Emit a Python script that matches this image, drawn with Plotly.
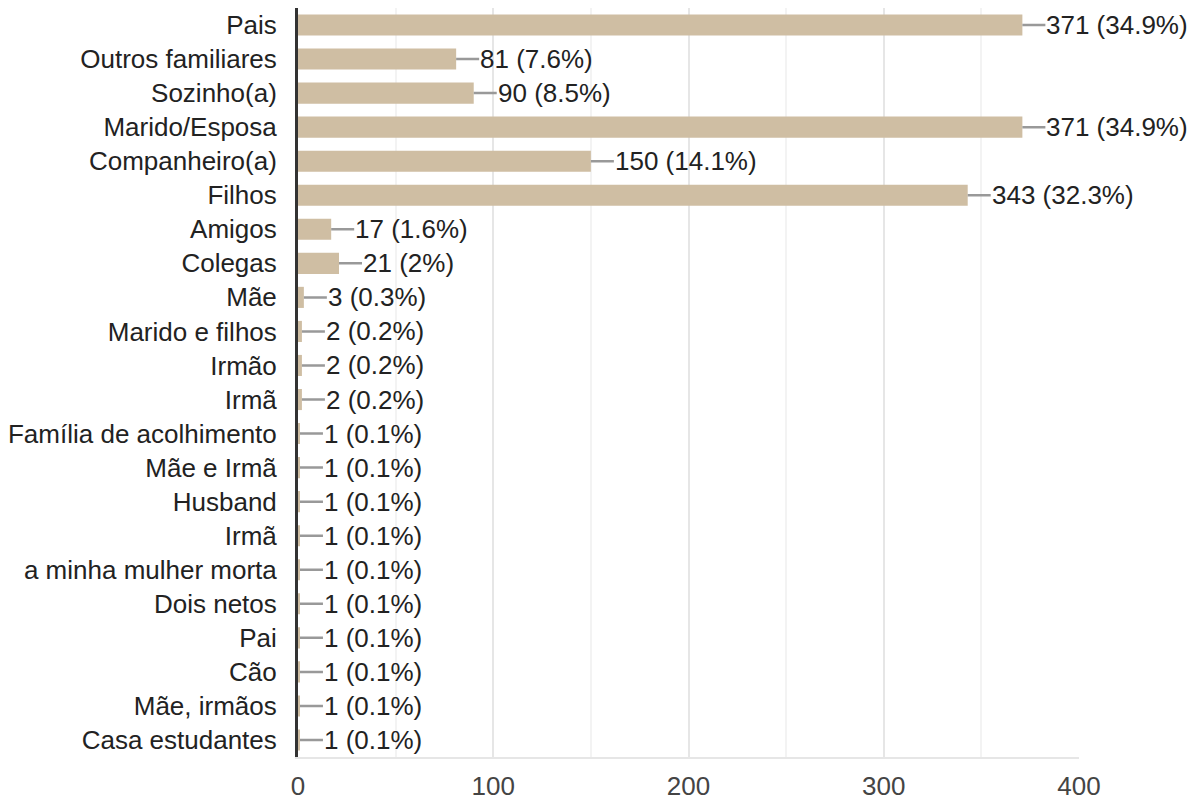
import plotly.graph_objects as go

categories = ["Pais", "Outros familiares", "Sozinho(a)", "Marido/Esposa", "Companheiro(a)",
              "Filhos", "Amigos", "Colegas", "Mãe", "Marido e filhos", "Irmão", "Irmã",
              "Família de acolhimento", "Mãe e Irmã", "Husband", "Irmã", "a minha mulher morta",
              "Dois netos", "Pai", "Cão", "Mãe, irmãos", "Casa estudantes"]
values = [371, 81, 90, 371, 150, 343, 17, 21, 3, 2, 2, 2, 1, 1, 1, 1, 1, 1, 1, 1, 1, 1]
percents = ["34.9%", "7.6%", "8.5%", "34.9%", "14.1%", "32.3%", "1.6%", "2%", "0.3%", "0.2%",
            "0.2%", "0.2%", "0.1%", "0.1%", "0.1%", "0.1%", "0.1%", "0.1%", "0.1%", "0.1%",
            "0.1%", "0.1%"]
x_ticks = [0, 100, 200, 300, 400]

FONT = "Liberation Sans, Arial, sans-serif"
positions = list(range(len(categories)))

fig = go.Figure()
fig.add_trace(go.Bar(
    x=values, y=positions, orientation="h",
    marker=dict(color="#cfbea3", line=dict(width=0)),
    hoverinfo="skip",
))

for pos, v, p in zip(positions, values, percents):
    fig.add_annotation(
        x=v, y=pos, xref="x", yref="y",
        text=f"{v} ({p})", showarrow=True, arrowhead=0, arrowwidth=2.5,
        arrowcolor="#999999", ax=23, ay=0, xanchor="left", yanchor="middle",
        standoff=0, startstandoff=0, borderpad=0,
        font=dict(family=FONT, size=26, color="#222222"),
    )

fig.update_layout(
    width=1200, height=800,
    margin=dict(l=290, r=129, t=0, b=51),
    paper_bgcolor="white", plot_bgcolor="white",
    showlegend=False, bargap=0.38,
    font=dict(family=FONT, size=26, color="#222222"),
)
fig.update_xaxes(
    range=[0, 400], tickvals=x_ticks, ticktext=[str(t) for t in x_ticks],
    showgrid=True, gridcolor="#e6e6e6", gridwidth=2,
    minor=dict(dtick=50, showgrid=True, gridcolor="#f3f3f3", gridwidth=2),
    showline=True, linecolor="#e6e6e6", linewidth=2, mirror=True,
    zeroline=False, ticks="", ticklabelstandoff=5, automargin=False,
    tickfont=dict(family=FONT, size=26, color="#444444"),
)
fig.update_yaxes(
    tickvals=positions, ticktext=categories, range=[len(categories) - 0.5, -0.5],
    showgrid=False, zeroline=False, automargin=False,
    showline=True, linecolor="#333333", linewidth=3,
    ticks="", ticklabelstandoff=13,
    tickfont=dict(family=FONT, size=26, color="#222222"),
)

fig.write_html("out.html")
